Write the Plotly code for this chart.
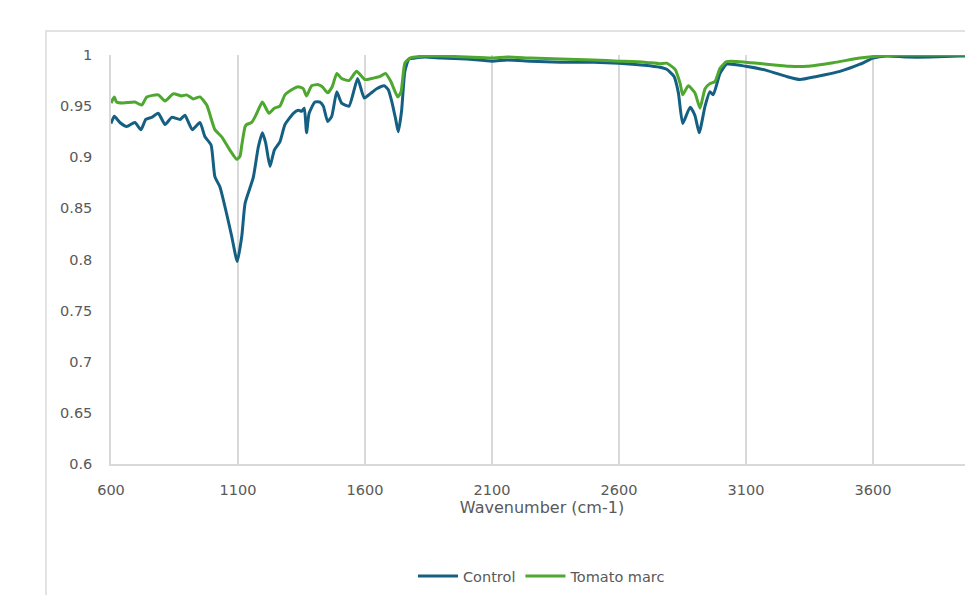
import plotly.graph_objects as go

# ---- data ----
control_wn = [600, 613, 635, 662, 694, 718, 737, 760, 786, 813, 839, 872, 891, 920, 950, 970, 994,
              1009, 1029, 1055, 1075, 1097, 1115, 1128, 1160, 1180, 1196, 1209, 1226, 1243, 1265, 1285,
              1318, 1337, 1351, 1361, 1370, 1380, 1403, 1423, 1436, 1453, 1469, 1489, 1508, 1537, 1571,
              1597, 1620, 1646, 1676, 1692, 1707, 1721, 1731, 1744, 1757, 1773, 1797, 1836, 1900, 2000,
              2100, 2160, 2250, 2370, 2500, 2600, 2700, 2761, 2788, 2817, 2834, 2851, 2880, 2899, 2916,
              2939, 2958, 2971, 2998, 3024, 3099, 3181, 3260, 3313, 3378, 3470, 3549, 3601, 3654, 3733,
              3824, 3942, 4000]
control_val = [0.933, 0.940, 0.934, 0.930, 0.934, 0.927, 0.937, 0.939, 0.943, 0.932, 0.939, 0.937, 0.941,
               0.927, 0.934, 0.920, 0.912, 0.881, 0.871, 0.845, 0.823, 0.798, 0.823, 0.855, 0.880, 0.910,
               0.924, 0.914, 0.891, 0.907, 0.915, 0.932, 0.943, 0.946, 0.945, 0.948, 0.924, 0.943, 0.954,
               0.954, 0.950, 0.935, 0.940, 0.964, 0.953, 0.950, 0.977, 0.958, 0.962, 0.967, 0.970, 0.966,
               0.953, 0.937, 0.925, 0.945, 0.984, 0.996, 0.997, 0.998, 0.997, 0.996, 0.994, 0.995, 0.994,
               0.993, 0.993, 0.992, 0.990, 0.988, 0.986, 0.979, 0.963, 0.933, 0.949, 0.941, 0.924, 0.950,
               0.964, 0.961, 0.982, 0.991, 0.989, 0.985, 0.979, 0.976, 0.979, 0.984, 0.991, 0.997, 0.999,
               0.998, 0.998, 0.999, 0.999]

tomato_wn = [600, 613, 622, 648, 694, 721, 741, 786, 813, 845, 878, 898, 924, 950, 977, 1009, 1036,
             1068, 1095, 1108, 1115, 1128, 1134, 1154, 1174, 1196, 1222, 1243, 1265, 1285, 1318, 1337,
             1357, 1370, 1390, 1416, 1432, 1453, 1471, 1489, 1508, 1537, 1567, 1600, 1626, 1659, 1681,
             1702, 1729, 1742, 1757, 1777, 1836, 1900, 2000, 2100, 2160, 2250, 2370, 2500, 2600, 2700,
             2761, 2788, 2821, 2841, 2851, 2873, 2899, 2919, 2939, 2958, 2978, 2998, 3024, 3099, 3181,
             3273, 3339, 3444, 3549, 3628, 3706, 3837, 4000]
tomato_val = [0.953, 0.959, 0.954, 0.953, 0.954, 0.951, 0.959, 0.961, 0.955, 0.962, 0.960, 0.961, 0.957,
              0.959, 0.951, 0.927, 0.920, 0.907, 0.898, 0.901, 0.912, 0.930, 0.932, 0.934, 0.943, 0.954,
              0.943, 0.948, 0.950, 0.961, 0.967, 0.969, 0.967, 0.960, 0.970, 0.971, 0.969, 0.963, 0.969,
              0.982, 0.977, 0.975, 0.984, 0.976, 0.977, 0.979, 0.982, 0.974, 0.959, 0.964, 0.992, 0.997,
              0.999, 0.999, 0.998, 0.997, 0.998, 0.997, 0.996, 0.995, 0.994, 0.993, 0.9915, 0.992, 0.986,
              0.972, 0.961, 0.970, 0.963, 0.948, 0.967, 0.972, 0.974, 0.987, 0.9935, 0.993, 0.991, 0.989,
              0.989, 0.9925, 0.997, 0.999, 1.0, 1.0, 1.0]

x_ticks = [600, 1100, 1600, 2100, 2600, 3100, 3600]
x_tick_text = ["600", "1100", "1600", "2100", "2600", "3100", "3600"]
y_ticks = [0.6, 0.65, 0.7, 0.75, 0.8, 0.85, 0.9, 0.95, 1.0]
y_tick_text = ["0.6", "0.65", "0.7", "0.75", "0.8", "0.85", "0.9", "0.95", "1"]

FONT = "'DejaVu Sans', sans-serif"
GRID = "#d9d9d9"
TXT = "#595959"

fig = go.Figure()
fig.add_trace(go.Scatter(x=control_wn, y=control_val, mode="lines", name="Control",
                         line=dict(color="#156082", width=3, shape="spline", smoothing=0.5)))
fig.add_trace(go.Scatter(x=tomato_wn, y=tomato_val, mode="lines", name="Tomato marc",
                         line=dict(color="#4EA72E", width=3, shape="spline", smoothing=0.5)))

# outer chart-area border (cropped at right/bottom in the reference)
fig.add_shape(type="rect", xref="paper", yref="paper", x0=-0.0754, x1=1.2, y0=-0.5, y1=1.0587,
              line=dict(color=GRID, width=1.5), layer="below")

# page body has an 8px margin: compensate so the plot area lands at x 111..973, y 55..464
fig.update_layout(
    width=965, height=587, autosize=False,
    margin=dict(l=103, r=0, t=47, b=131, pad=0),
    paper_bgcolor="white", plot_bgcolor="white",
    font=dict(family=FONT, size=14.5, color=TXT),
    showlegend=True,
    legend=dict(orientation="h", x=0.5, xanchor="center", y=-0.274, yanchor="middle",
                font=dict(family=FONT, size=14.5, color=TXT), itemwidth=40, tracegroupgap=0),
)
fig.update_xaxes(range=[600, 3994], tickvals=x_ticks, ticktext=x_tick_text,
                 showgrid=True, gridcolor=GRID, gridwidth=1.5,
                 showline=True, linecolor=GRID, linewidth=1.5,
                 zeroline=False, ticks="", ticklabelstandoff=12,
                 tickfont=dict(family=FONT, size=14.5, color=TXT),
                 title=dict(text="Wavenumber (cm-1)", standoff=0,
                            font=dict(family=FONT, size=16, color=TXT)))
fig.update_yaxes(range=[0.6, 1.0], tickvals=y_ticks, ticktext=y_tick_text,
                 showgrid=False, showline=True, linecolor=GRID, linewidth=1.5,
                 zeroline=False, ticks="", ticklabelstandoff=14,
                 tickfont=dict(family=FONT, size=14.5, color=TXT))

fig.write_html("out.html")
